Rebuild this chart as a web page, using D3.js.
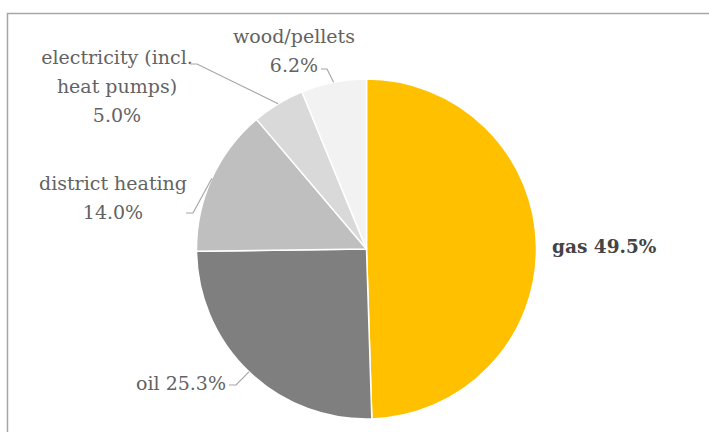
<!DOCTYPE html>
<html><head><meta charset="utf-8">
<script src="https://cdn.jsdelivr.net/npm/d3@7"></script>
<style>
html,body{margin:0;padding:0;background:#fff;}
svg{display:block;}
</style></head>
<body>
<svg id="chart" width="709" height="432"></svg>
<script>
const categories = ["gas", "oil", "district heating", "electricity (incl. heat pumps)", "wood/pellets"];
const values = [49.5, 25.3, 14.0, 5.0, 6.2];
const labelLines = [["gas 49.5%"], ["oil 25.3%"], ["district heating", "14.0%"], ["electricity (incl.", "heat pumps)", "5.0%"], ["wood/pellets", "6.2%"]];
const colors = ["#FFC000", "#7F7F7F", "#BFBFBF", "#D9D9D9", "#F2F2F2"];

const svg = d3.select("#chart");
const W = 709, H = 432;
const cx = 366.5, cy = 249, R = 170;
const FONT = "DejaVu Serif";

svg.append("path").attr("d", `M7.5,${H} V13.5 H${W}`).attr("fill", "none").attr("stroke", "#A6A6A6").attr("stroke-width", 1.5);

const pie = d3.pie().sort(null).value(d => d)(values);
const arc = d3.arc().innerRadius(0).outerRadius(R);
const g = svg.append("g").attr("transform", `translate(${cx},${cy})`);
g.selectAll("path.slice").data(pie).join("path")
  .attr("class", "slice")
  .attr("d", arc)
  .attr("fill", (d, i) => colors[i])
  .attr("stroke", "#fff").attr("stroke-width", 1.5).attr("stroke-linejoin", "round");

function edgePoint(d, r) {
  const a = (d.startAngle + d.endAngle) / 2;
  return [cx + r * Math.sin(a), cy - r * Math.cos(a)];
}

const layout = [
  {x: 552, y: 253, anchor: "start", bold: true, leader: null},
  {x: 181, y: 390, anchor: "middle", leader: [[229, 385], [236, 385]]},
  {x: 113, y: 190, anchor: "middle", leader: [[186, 213], [193, 213]]},
  {x: 117, y: 64, anchor: "middle", leader: [[190, 64], [197, 64]]},
  {x: 294, y: 43, anchor: "middle", leader: [[321, 69], [327, 69]]}
];
const lh = 29;

pie.forEach((d, i) => {
  const L = layout[i];
  const t = svg.append("text")
    .attr("x", L.x).attr("y", L.y)
    .attr("text-anchor", L.anchor)
    .style("font-family", FONT)
    .attr("font-size", L.bold ? 18.5 : 19)
    .attr("font-weight", L.bold ? "bold" : "normal")
    .attr("fill", L.bold ? "#444444" : "#636363");
  labelLines[i].forEach((s, k) => {
    t.append("tspan").attr("x", L.x).attr("dy", k === 0 ? 0 : lh).text(s);
  });
  if (L.leader) {
    const pts = L.leader.concat([edgePoint(d, R)]);
    svg.append("path").attr("d", d3.line()(pts))
      .attr("fill", "none").attr("stroke", "#A6A6A6").attr("stroke-width", 1.2);
  }
});
</script>
</body></html>
